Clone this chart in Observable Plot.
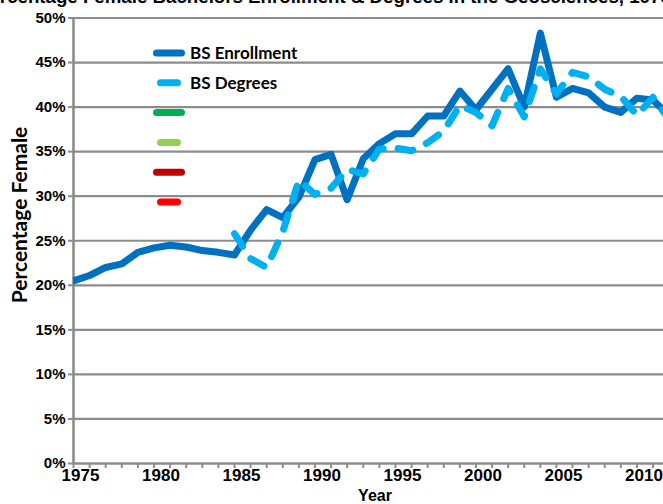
<!DOCTYPE html>
<html><head><meta charset="utf-8">
<script src="https://cdn.jsdelivr.net/npm/d3@7"></script>
<script src="https://cdn.jsdelivr.net/npm/@observablehq/plot@0.6"></script>
<style>
html,body{margin:0;padding:0;background:#fff;overflow:hidden;width:663px;height:504px;}
#chart{position:relative;width:663px;height:504px;}
</style></head><body><div id="chart"></div>
<script>
const titleText = "Percentage Female Bachelors Enrollment & Degrees in the Geosciences, 1975-2012";
const xAxisTitle = "Year";
const yAxisTitle = "Percentage Female";

const enrollYears = [1975,1976,1977,1978,1979,1980,1981,1982,1983,1984,1985,1986,1987,1988,1989,1990,1991,1992,1993,1994,1995,1996,1997,1998,1999,2000,2001,2002,2003,2004,2005,2006,2007,2008,2009,2010,2011,2012];
const enrollment = [20.5,21.1,22.0,22.4,23.7,24.2,24.5,24.3,23.9,23.7,23.4,26.2,28.5,27.6,29.9,34.1,34.7,29.6,34.2,35.9,37.0,37.0,39.0,39.0,41.8,39.7,42.0,44.3,40.0,48.3,41.1,42.1,41.6,40.0,39.4,41.0,40.8,39.0];

const degreeYears = [1985,1986,1987,1988,1989,1990,1991,1992,1993,1994,1995,1996,1997,1998,1999,2000,2001,2002,2003,2004,2005,2006,2007,2008,2009,2010,2011,2012];
const degrees = [25.8,23.0,22.0,26.0,31.8,30.2,30.9,33.0,32.5,35.3,35.4,35.1,36.0,37.3,40.2,39.4,37.9,42.1,38.9,44.3,41.5,43.9,43.4,42.0,41.2,39.1,41.1,38.6];

const xLabelYears = [1975,1980,1985,1990,1995,2000,2005,2010];
const xTickYears = [1975,1976,1977,1978,1979,1980,1981,1982,1983,1984,1985,1986,1987,1988,1989,1990,1991,1992,1993,1994,1995,1996,1997,1998,1999,2000,2001,2002,2003,2004,2005,2006,2007,2008,2009,2010,2011];
const yTicks = [0,5,10,15,20,25,30,35,40,45,50];

const legendNames = ["BS Enrollment","BS Degrees","","","",""];
const legendColors = ["#0070C0","#00B0F0","#00B050","#92D050","#C00000","#FF0000"];
const legendDashed = [false,true,false,true,false,true];

const enrollData = enrollYears.map((year,i)=>({year, value: enrollment[i]}));
const degreeData = degreeYears.map((year,i)=>({year, value: degrees[i]}));

const plot = Plot.plot({
  width: 663, height: 504,
  marginLeft: 73, marginRight: 0, marginTop: 17.5, marginBottom: 41,
  x: {domain: [1975, 2011.65], label: null},
  y: {domain: [0, 50], label: null},
  style: {fontFamily: "'Liberation Sans', Arial, sans-serif", background: "#fff", overflow: "hidden"},
  marks: [
    Plot.gridY(yTicks.filter(d => d > 0), {stroke: "#8c8c8c", strokeOpacity: 1, strokeWidth: 2.2}),
    Plot.ruleX([1975], {stroke: "#8c8c8c", strokeWidth: 2.6}),
    Plot.ruleY([0], {stroke: "#8c8c8c", strokeWidth: 2.6}),
    Plot.axisY({ticks: yTicks, tickSize: 5, tickPadding: 3, tickFormat: d => d + "%", fontSize: 15, fontWeight: "bold", stroke: "#8c8c8c", fill: "#000", strokeWidth: 2}),
    Plot.axisX({ticks: xTickYears, tickSize: 5, tickFormat: () => "", stroke: "#8c8c8c", strokeWidth: 2}),
    Plot.axisX({ticks: xLabelYears, tickSize: 0, tickPadding: 5, dx: 7, tickFormat: d => String(d), fontSize: 17, fontWeight: "bold", fill: "#000"}),
    Plot.line(enrollData, {x: "year", y: "value", stroke: "#0070C0", strokeWidth: 7, strokeLinejoin: "round", clip: true}),
    Plot.line(degreeData, {x: "year", y: "value", stroke: "#00B0F0", strokeWidth: 7, strokeLinejoin: "round", strokeLinecap: "round", strokeDasharray: "15,15", clip: true})
  ]
});

document.getElementById("chart").appendChild(plot);
const svg = d3.select(plot);
const font1 = "'Liberation Sans', Arial, sans-serif";
const font2 = "Lato, 'Open Sans', sans-serif";

// title (cropped at the top and sides in the reference)
svg.append("text").attr("x", -23).attr("y", 3).attr("text-anchor", "start")
  .attr("font-family", font1).attr("font-weight", "bold").attr("font-size", 18.7)
  .attr("fill", "#000").text(titleText);

// axis titles
svg.append("text").attr("x", 375).attr("y", 501).attr("text-anchor", "middle")
  .attr("font-family", font1).attr("font-weight", "bold").attr("font-size", 16)
  .attr("fill", "#000").text(xAxisTitle);
svg.append("text").attr("transform", "translate(27,215) rotate(-90)").attr("text-anchor", "middle")
  .attr("font-family", font2).attr("font-weight", "bold").attr("font-size", 21)
  .attr("fill", "#000").text(yAxisTitle);

// legend
const lg = svg.append("g");
legendNames.forEach((name, i) => {
  const cy = 53 + i * 29.8;
  const x1 = legendDashed[i] ? 160.5 : 156.5;
  const x2 = legendDashed[i] ? 177.5 : 181.5;
  lg.append("line").attr("x1", x1).attr("x2", x2).attr("y1", cy).attr("y2", cy)
    .attr("stroke", legendColors[i]).attr("stroke-width", 7).attr("stroke-linecap", "round");
  if (name) {
    lg.append("text").attr("x", 190).attr("y", cy).attr("dy", "0.35em").attr("text-anchor", "start")
      .attr("font-family", font2).attr("font-weight", "bold").attr("font-size", 17)
      .attr("fill", "#000").text(name);
  }
});
</script></body></html>
